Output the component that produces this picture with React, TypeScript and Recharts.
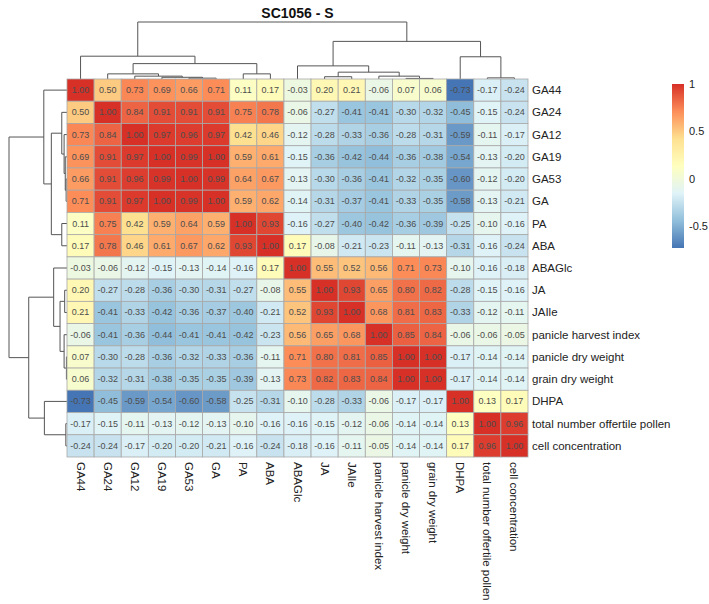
import React from 'react';
import { ScatterChart, Scatter, XAxis, YAxis, ReferenceLine, Customized } from 'recharts';

const VARIABLES = [
  'GA44', 'GA24', 'GA12', 'GA19', 'GA53', 'GA', 'PA', 'ABA', 'ABAGlc', 'JA', 'JAIle',
  'panicle harvest index', 'panicle dry weight', 'grain dry weight', 'DHPA',
  'total number offertile pollen', 'cell concentration',
];

// correlation matrix, rows/cols in VARIABLES order
const CORR = [
  [1.0, 0.5, 0.73, 0.69, 0.66, 0.71, 0.11, 0.17, -0.03, 0.2, 0.21, -0.06, 0.07, 0.06, -0.73, -0.17, -0.24],
  [0.5, 1.0, 0.84, 0.91, 0.91, 0.91, 0.75, 0.78, -0.06, -0.27, -0.41, -0.41, -0.3, -0.32, -0.45, -0.15, -0.24],
  [0.73, 0.84, 1.0, 0.97, 0.96, 0.97, 0.42, 0.46, -0.12, -0.28, -0.33, -0.36, -0.28, -0.31, -0.59, -0.11, -0.17],
  [0.69, 0.91, 0.97, 1.0, 0.99, 1.0, 0.59, 0.61, -0.15, -0.36, -0.42, -0.44, -0.36, -0.38, -0.54, -0.13, -0.2],
  [0.66, 0.91, 0.96, 0.99, 1.0, 0.99, 0.64, 0.67, -0.13, -0.3, -0.36, -0.41, -0.32, -0.35, -0.6, -0.12, -0.2],
  [0.71, 0.91, 0.97, 1.0, 0.99, 1.0, 0.59, 0.62, -0.14, -0.31, -0.37, -0.41, -0.33, -0.35, -0.58, -0.13, -0.21],
  [0.11, 0.75, 0.42, 0.59, 0.64, 0.59, 1.0, 0.93, -0.16, -0.27, -0.4, -0.42, -0.36, -0.39, -0.25, -0.1, -0.16],
  [0.17, 0.78, 0.46, 0.61, 0.67, 0.62, 0.93, 1.0, 0.17, -0.08, -0.21, -0.23, -0.11, -0.13, -0.31, -0.16, -0.24],
  [-0.03, -0.06, -0.12, -0.15, -0.13, -0.14, -0.16, 0.17, 1.0, 0.55, 0.52, 0.56, 0.71, 0.73, -0.1, -0.16, -0.18],
  [0.2, -0.27, -0.28, -0.36, -0.3, -0.31, -0.27, -0.08, 0.55, 1.0, 0.93, 0.65, 0.8, 0.82, -0.28, -0.15, -0.16],
  [0.21, -0.41, -0.33, -0.42, -0.36, -0.37, -0.4, -0.21, 0.52, 0.93, 1.0, 0.68, 0.81, 0.83, -0.33, -0.12, -0.11],
  [-0.06, -0.41, -0.36, -0.44, -0.41, -0.41, -0.42, -0.23, 0.56, 0.65, 0.68, 1.0, 0.85, 0.84, -0.06, -0.06, -0.05],
  [0.07, -0.3, -0.28, -0.36, -0.32, -0.33, -0.36, -0.11, 0.71, 0.8, 0.81, 0.85, 1.0, 1.0, -0.17, -0.14, -0.14],
  [0.06, -0.32, -0.31, -0.38, -0.35, -0.35, -0.39, -0.13, 0.73, 0.82, 0.83, 0.84, 1.0, 1.0, -0.17, -0.14, -0.14],
  [-0.73, -0.45, -0.59, -0.54, -0.6, -0.58, -0.25, -0.31, -0.1, -0.28, -0.33, -0.06, -0.17, -0.17, 1.0, 0.13, 0.17],
  [-0.17, -0.15, -0.11, -0.13, -0.12, -0.13, -0.1, -0.16, -0.16, -0.15, -0.12, -0.06, -0.14, -0.14, 0.13, 1.0, 0.96],
  [-0.24, -0.24, -0.17, -0.2, -0.2, -0.21, -0.16, -0.24, -0.18, -0.16, -0.11, -0.05, -0.14, -0.14, 0.17, 0.96, 1.0],
];

// hierarchical merges: [left, right, height]; ids >= 17 are earlier merges
const MERGES: [number, number, number][] = [
  [4, 5, 0.015],
  [3, 17, 0.03],
  [2, 18, 0.05],
  [1, 19, 0.09],
  [6, 7, 0.09],
  [20, 21, 0.27],
  [0, 22, 0.4],
  [12, 13, 0.01],
  [11, 24, 0.05],
  [9, 10, 0.04],
  [26, 25, 0.12],
  [8, 27, 0.23],
  [15, 16, 0.02],
  [14, 29, 0.39],
  [28, 30, 0.66],
  [23, 31, 1.0],
];

const LEGEND_TICKS = [1, 0.5, 0, -0.5];
const PALETTE = ['#4575B4', '#91BFDB', '#E0F3F8', '#FFFFBF', '#FEE090', '#FC8D59', '#D73027'];

// layout
const W = 709;
const H = 604;
const Y_AXIS_W = 150;
const X_AXIS_H = 140;
const MARGIN = { top: 79, right: 31, bottom: 7, left: 67 };
const PLOT_W = W - MARGIN.left - MARGIN.right - Y_AXIS_W;
const PLOT_H = H - MARGIN.top - MARGIN.bottom - X_AXIS_H;
const N = VARIABLES.length;
const CELL_W = PLOT_W / N;
const CELL_H = PLOT_H / N;
const DENDRO_PX = 57;

const ALL = CORR.flat();
const VMIN = Math.min(...ALL);
const VMAX = Math.max(...ALL);

function hexToRgb(h: string) {
  return [1, 3, 5].map((i) => parseInt(h.slice(i, i + 2), 16));
}

function colorFor(v: number) {
  const t = Math.max(0, Math.min(1, (v - VMIN) / (VMAX - VMIN)));
  const p = t * (PALETTE.length - 1);
  const i = Math.min(PALETTE.length - 2, Math.floor(p));
  const f = p - i;
  const a = hexToRgb(PALETTE[i]);
  const b = hexToRgb(PALETTE[i + 1]);
  const c = a.map((x, k) => Math.round(x + (b[k] - x) * f));
  return `rgb(${c[0]},${c[1]},${c[2]})`;
}

const cells = CORR.flatMap((row, r) => row.map((v, c) => ({ x: c, y: r, v })));

// dendrogram segments in (leaf position, height) space
function dendroSegments() {
  const pos = VARIABLES.map((_, i) => i);
  const hgt = VARIABLES.map(() => 0);
  const segs: number[][] = [];
  MERGES.forEach(([a, b, h]) => {
    segs.push([pos[a], hgt[a], pos[a], h]);
    segs.push([pos[a], h, pos[b], h]);
    segs.push([pos[b], h, pos[b], hgt[b]]);
    pos.push((pos[a] + pos[b]) / 2);
    hgt.push(h);
  });
  return segs;
}
const SEGS = dendroSegments();
const TOP_SCALE = DENDRO_PX / CELL_H;
const LEFT_SCALE = (DENDRO_PX + 1) / CELL_W;

const HeatCell = (props: any) => {
  const { cx, cy, payload } = props;
  if (cx == null || cy == null) return <g />;
  return (
    <g>
      <rect
        x={cx - CELL_W / 2}
        y={cy - CELL_H / 2}
        width={CELL_W}
        height={CELL_H}
        fill={colorFor(payload.v)}
        stroke="#a8a8a8"
        strokeWidth={0.8}
      />
      <text
        x={cx}
        y={cy}
        textAnchor="middle"
        dominantBaseline="central"
        fontSize={9}
        fontFamily="Liberation Sans, Arial, sans-serif"
        fill="#4d4d4d"
      >
        {payload.v.toFixed(2)}
      </text>
    </g>
  );
};

const BottomTick = (props: any) => {
  const { x, y, payload } = props;
  return (
    <text
      transform={`translate(${x},${y}) rotate(90)`}
      textAnchor="start"
      dominantBaseline="central"
      fontSize={11.5}
      fontFamily="Liberation Sans, Arial, sans-serif"
      fill="#222"
    >
      {VARIABLES[payload.value]}
    </text>
  );
};

const RightTick = (props: any) => {
  const { x, y, payload } = props;
  return (
    <text
      x={x}
      y={y}
      textAnchor="start"
      dominantBaseline="central"
      fontSize={11.5}
      fontFamily="Liberation Sans, Arial, sans-serif"
      fill="#222"
    >
      {VARIABLES[payload.value]}
    </text>
  );
};

// title + colour key
const Extras = () => {
  const barX = 672;
  const barTop = 84;
  const barBottom = 248;
  const yOf = (v: number) => barBottom - ((v - VMIN) / (VMAX - VMIN)) * (barBottom - barTop);
  return (
    <g>
      <text
        x={MARGIN.left + PLOT_W / 2}
        y={18}
        textAnchor="middle"
        fontSize={14}
        fontWeight="bold"
        fontFamily="Liberation Sans, Arial, sans-serif"
        fill="#111"
      >
        SC1056 - S
      </text>
      <defs>
        <linearGradient id="keyGrad" x1="0" y1="1" x2="0" y2="0">
          {PALETTE.map((c, i) => (
            <stop key={i} offset={i / (PALETTE.length - 1)} stopColor={c} />
          ))}
        </linearGradient>
      </defs>
      <rect x={barX} y={barTop} width={12} height={barBottom - barTop} fill="url(#keyGrad)" />
      {LEGEND_TICKS.map((t) => (
        <text
          key={t}
          x={barX + 17}
          y={yOf(t)}
          dominantBaseline="central"
          fontSize={11}
          fontFamily="Liberation Sans, Arial, sans-serif"
          fill="#222"
        >
          {t}
        </text>
      ))}
    </g>
  );
};

export default function App() {
  const ticks = VARIABLES.map((_, i) => i);
  return (
    <div style={{ position: 'absolute', left: 0, top: 0, background: '#fff' }}>
      <ScatterChart width={W} height={H} margin={MARGIN}>
        <XAxis
          type="number"
          dataKey="x"
          domain={[-0.5, N - 0.5]}
          ticks={ticks}
          interval={0}
          height={X_AXIS_H}
          axisLine={false}
          tickLine={false}
          tickSize={0}
          tickMargin={5}
          tick={<BottomTick />}
        />
        <YAxis
          type="number"
          dataKey="y"
          orientation="right"
          reversed
          domain={[-0.5, N - 0.5]}
          ticks={ticks}
          interval={0}
          width={Y_AXIS_W}
          axisLine={false}
          tickLine={false}
          tickSize={0}
          tickMargin={4}
          tick={<RightTick />}
        />
        <Scatter data={cells} shape={<HeatCell />} isAnimationActive={false} />
        {SEGS.map(([p1, h1, p2, h2], i) => (
          <ReferenceLine
            key={`t${i}`}
            ifOverflow="visible"
            stroke="#555"
            strokeWidth={1}
            segment={[
              { x: p1, y: -0.5 - h1 * TOP_SCALE },
              { x: p2, y: -0.5 - h2 * TOP_SCALE },
            ]}
          />
        ))}
        {SEGS.map(([p1, h1, p2, h2], i) => (
          <ReferenceLine
            key={`l${i}`}
            ifOverflow="visible"
            stroke="#555"
            strokeWidth={1}
            segment={[
              { x: -0.5 - h1 * LEFT_SCALE, y: p1 },
              { x: -0.5 - h2 * LEFT_SCALE, y: p2 },
            ]}
          />
        ))}
        <Customized component={Extras} />
      </ScatterChart>
    </div>
  );
}
